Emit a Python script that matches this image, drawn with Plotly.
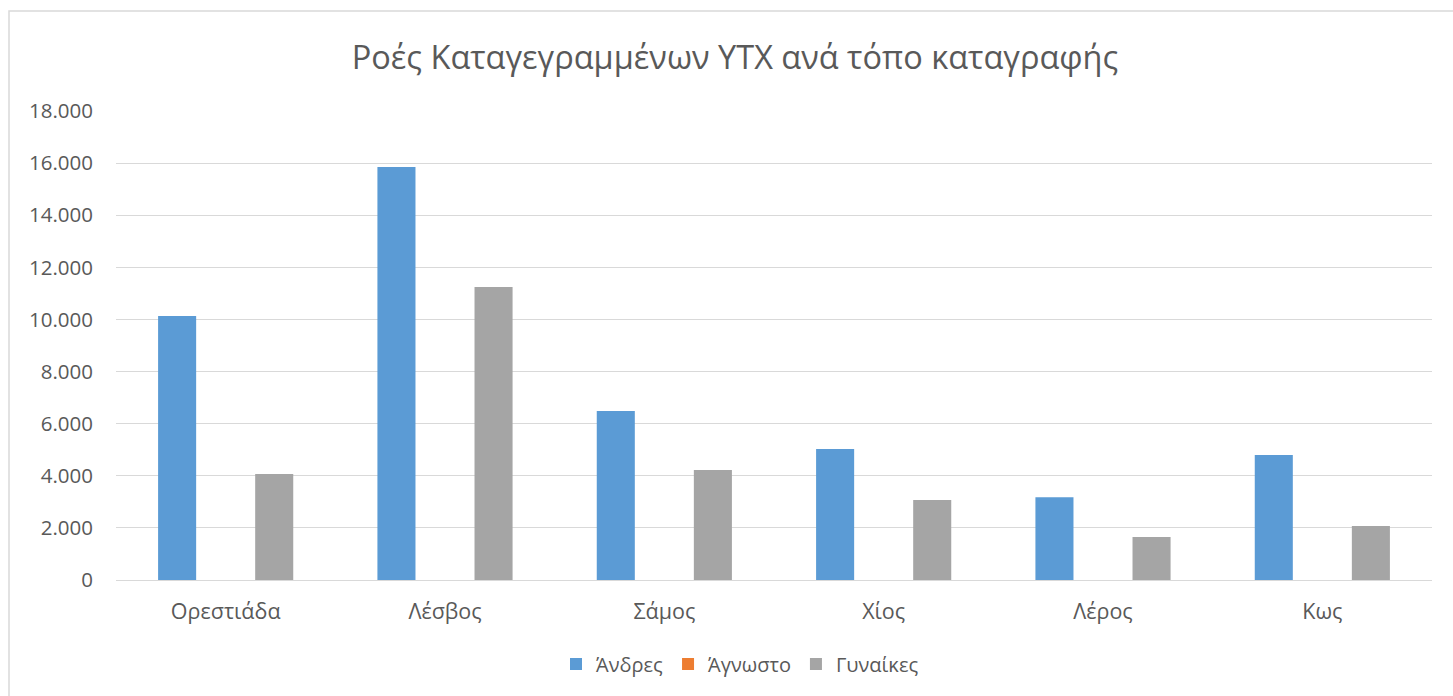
import plotly.graph_objects as go

categories = ["Ορεστιάδα", "Λέσβος", "Σάμος", "Χίος", "Λέρος", "Κως"]
men = [10130, 15850, 6490, 5030, 3180, 4800]
unknown = [0, 0, 0, 0, 0, 0]
women = [4070, 11250, 4220, 3070, 1650, 2070]
series_names = ["Άνδρες", "Άγνωστο", "Γυναίκες"]
colors = ["#5B9BD5", "#ED7D31", "#A5A5A5"]
y_ticks = [0, 2000, 4000, 6000, 8000, 10000, 12000, 14000, 16000, 18000]
y_tick_labels = ["0", "2.000", "4.000", "6.000", "8.000", "10.000", "12.000", "14.000", "16.000", "18.000"]
title = "Ροές Καταγεγραμμένων ΥΤΧ ανά τόπο καταγραφής"

W, H = 1453, 696
ml, mr, mt, mb = 116, 21, 111, 116
pw, ph = W - ml - mr, H - mt - mb

fig = go.Figure()
for name, vals, col in zip(series_names, [men, unknown, women], colors):
    fig.add_trace(go.Bar(
        x=categories, y=vals, name=name,
        marker=dict(color=col, line=dict(width=0)),
    ))

font_family = "Open Sans, Noto Sans, sans-serif"
fig.update_layout(
    width=W, height=H,
    margin=dict(l=ml, r=mr, t=mt, b=mb),
    paper_bgcolor="white", plot_bgcolor="white",
    barmode="group", bargap=0.336, bargroupgap=0.216,
    title=dict(text=title, x=735 / W, xanchor="center", y=1 - 58 / H, yanchor="middle",
               font=dict(family=font_family, size=32.5, color="#595959")),
    font=dict(family=font_family, color="#595959", size=20),
    showlegend=True,
    legend=dict(orientation="h", x=(740 - ml) / pw, xanchor="center",
                y=-(664 - (mt + ph)) / ph, yanchor="middle",
                font=dict(size=20, color="#595959"), itemwidth=30,
                traceorder="normal"),
    xaxis=dict(showgrid=False, showline=True, linecolor="#D9D9D9", linewidth=1,
               ticks="", ticklabelstandoff=12,
               tickfont=dict(size=21.5, color="#595959")),
    yaxis=dict(range=[0, 18000], tickvals=y_ticks, ticktext=y_tick_labels,
               showgrid=True, gridcolor="#D9D9D9", gridwidth=1, zeroline=False,
               showline=False, ticks="", ticklabelstandoff=22,
               tickfont=dict(size=20.5, color="#595959")),
    shapes=[dict(type="rect", xref="paper", yref="paper",
                 x0=(9 - ml) / pw, x1=(W + 20 - ml) / pw,
                 y0=-(H + 20 - mt - ph) / ph, y1=1 + (mt - 11) / ph,
                 line=dict(color="#D9D9D9", width=1.5), fillcolor="rgba(0,0,0,0)", layer="below")],
)

fig.write_html("out.html", config={"displayModeBar": False},
               post_script="document.body.style.margin='0px';document.body.style.overflow='hidden';")
